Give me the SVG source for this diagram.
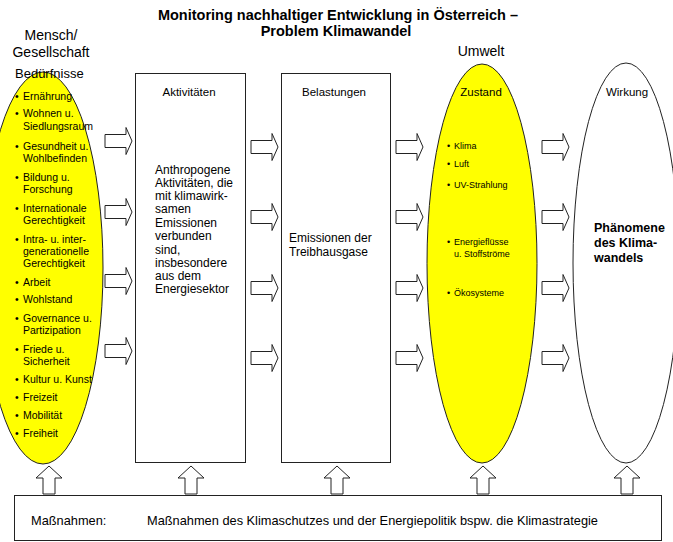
<svg xmlns="http://www.w3.org/2000/svg" xmlns:xlink="http://www.w3.org/1999/xlink" width="673" height="542" viewBox="0 0 673 542">
<style>
text{font-family:"Liberation Sans",Arial,sans-serif;fill:#000}
.t{font-size:14.5px;font-weight:bold}
.h{font-size:14px}
.hb{font-size:13px}
.hd{font-size:11.5px}
.b{font-size:12px}
.m{font-size:12.8px}
.li{font-size:10.5px}
.zi{font-size:9px}
.ph{font-size:12.5px;font-weight:bold}
.arr{fill:#fff;stroke:#222;stroke-width:1}
.shape{stroke:#222;stroke-width:1}
</style>
<defs>
<path id="ra" d="M0,-6.5 H21 V-13.5 L27,0 L21,13.5 V6.5 H0 Z"/>
<path id="ua" d="M-6,28 V12 H-13 L0,0 L13,12 H6 V28 Z"/>
</defs>
<rect width="673" height="542" fill="#fff"/>
<g id="title">
<text class="t" x="338" y="20" text-anchor="middle">Monitoring nachhaltiger Entwicklung in Österreich –</text>
<text class="t" x="336" y="36" text-anchor="middle">Problem Klimawandel</text>
</g>
<g id="label-mensch">
<text class="h" x="51" y="40" text-anchor="middle">Mensch/</text>
<text class="h" x="51" y="57" text-anchor="middle">Gesellschaft</text>
</g>
<g id="label-umwelt">
<text class="h" x="481" y="56" text-anchor="middle">Umwelt</text>
</g>
<g id="beduerfnisse">
<ellipse class="shape" cx="43" cy="268" rx="60" ry="196" fill="#ffff00"/>
<text class="hb" x="15" y="78">Bedürfnisse</text>
<g class="li">
<text x="15" y="100">•</text><text x="23" y="100">Ernährung</text>
<text x="15" y="117">•</text><text x="23" y="117">Wohnen u.</text><text x="23" y="130">Siedlungsraum</text>
<text x="15" y="150">•</text><text x="23" y="150">Gesundheit u.</text><text x="23" y="162">Wohlbefinden</text>
<text x="15" y="181">•</text><text x="23" y="181">Bildung u.</text><text x="23" y="193">Forschung</text>
<text x="15" y="212">•</text><text x="23" y="212">Internationale</text><text x="23" y="224">Gerechtigkeit</text>
<text x="15" y="243">•</text><text x="23" y="243">Intra- u. inter-</text><text x="23" y="255">generationelle</text><text x="23" y="267">Gerechtigkeit</text>
<text x="15" y="286">•</text><text x="23" y="286">Arbeit</text>
<text x="15" y="303">•</text><text x="23" y="303">Wohlstand</text>
<text x="15" y="322">•</text><text x="23" y="322">Governance u.</text><text x="23" y="334">Partizipation</text>
<text x="15" y="353">•</text><text x="23" y="353">Friede u.</text><text x="23" y="365">Sicherheit</text>
<text x="15" y="383">•</text><text x="23" y="383">Kultur u. Kunst</text>
<text x="15" y="401">•</text><text x="23" y="401">Freizeit</text>
<text x="15" y="419">•</text><text x="23" y="419">Mobilität</text>
<text x="15" y="437">•</text><text x="23" y="437">Freiheit</text>
</g>
</g>
<g id="aktivitaeten">
<rect class="shape" x="135.5" y="73.5" width="110" height="389" fill="#fff"/>
<text class="hd" x="189" y="96" text-anchor="middle">Aktivitäten</text>
<g class="b">
<text x="155" y="174">Anthropogene</text>
<text x="155" y="187">Aktivitäten, die</text>
<text x="155" y="200">mit klimawirk-</text>
<text x="155" y="213">samen</text>
<text x="155" y="227">Emissionen</text>
<text x="155" y="240">verbunden</text>
<text x="155" y="254">sind,</text>
<text x="155" y="267">insbesondere</text>
<text x="155" y="280">aus dem</text>
<text x="155" y="293">Energiesektor</text>
</g>
</g>
<g id="belastungen">
<rect class="shape" x="281.5" y="73.5" width="109" height="389" fill="#fff"/>
<text class="hd" x="334" y="96" text-anchor="middle">Belastungen</text>
<text class="b" x="289" y="242">Emissionen der</text>
<text class="b" x="289" y="256">Treibhausgase</text>
</g>
<g id="zustand">
<ellipse class="shape" cx="482" cy="263.5" rx="55" ry="199.5" fill="#ffff00"/>
<text class="hd" x="481" y="96" text-anchor="middle">Zustand</text>
<g class="zi">
<text x="447" y="149">•</text><text x="454" y="149">Klima</text>
<text x="447" y="167">•</text><text x="454" y="167">Luft</text>
<text x="447" y="188">•</text><text x="454" y="188">UV-Strahlung</text>
<text x="447" y="245">•</text><text x="454" y="245">Energieflüsse</text><text x="454" y="257">u. Stoffströme</text>
<text x="447" y="296">•</text><text x="454" y="296">Ökosysteme</text>
</g>
</g>
<g id="wirkung">
<ellipse class="shape" cx="626" cy="263" rx="53" ry="200" fill="#fff"/>
<text class="hd" x="627" y="96" text-anchor="middle">Wirkung</text>
<text class="ph" x="594" y="232">Phänomene</text>
<text class="ph" x="594" y="247">des Klima-</text>
<text class="ph" x="594" y="262">wandels</text>
</g>
<g id="massnahmen">
<rect class="shape" x="14.5" y="495.5" width="647" height="45" fill="#fff"/>
<text class="m" x="31" y="525">Maßnahmen:</text>
<text class="m" x="147" y="525">Maßnahmen des Klimaschutzes und der Energiepolitik bspw. die Klimastrategie</text>
</g>
<g id="connectors" class="arr">
<use xlink:href="#ra" x="105" y="141"/>
<use xlink:href="#ra" x="105" y="212"/>
<use xlink:href="#ra" x="105" y="281"/>
<use xlink:href="#ra" x="105" y="351"/>
<use xlink:href="#ra" x="251" y="147"/>
<use xlink:href="#ra" x="251" y="217"/>
<use xlink:href="#ra" x="251" y="288"/>
<use xlink:href="#ra" x="251" y="358"/>
<use xlink:href="#ra" x="396" y="147"/>
<use xlink:href="#ra" x="396" y="217"/>
<use xlink:href="#ra" x="396" y="288"/>
<use xlink:href="#ra" x="396" y="358"/>
<use xlink:href="#ra" x="542" y="147"/>
<use xlink:href="#ra" x="542" y="217"/>
<use xlink:href="#ra" x="542" y="288"/>
<use xlink:href="#ra" x="542" y="358"/>
<use xlink:href="#ua" x="49" y="466"/>
<use xlink:href="#ua" x="191" y="466"/>
<use xlink:href="#ua" x="337" y="466"/>
<use xlink:href="#ua" x="483" y="466"/>
<use xlink:href="#ua" x="627" y="466"/>
</g>
</svg>
